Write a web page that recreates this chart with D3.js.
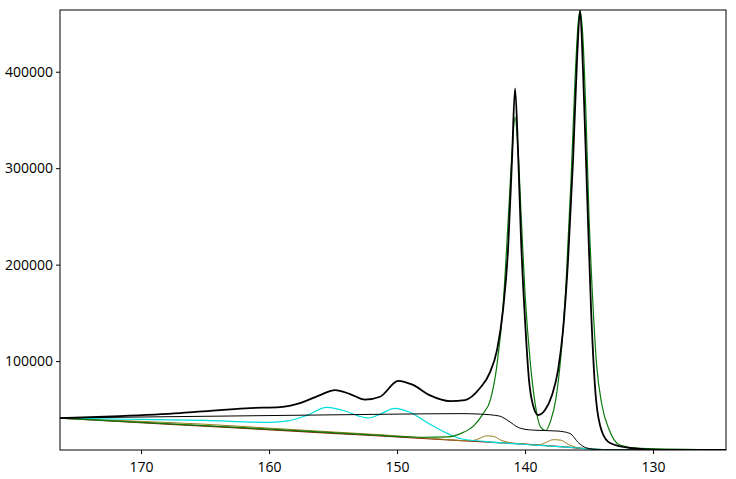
<!DOCTYPE html>
<html><head><meta charset="utf-8">
<script src="https://cdn.jsdelivr.net/npm/d3@7"></script>
<style>body{margin:0;background:#fff}svg{display:block}text{font-family:"Open Sans",sans-serif;font-size:14px;fill:#000}</style>
</head><body><svg width="736" height="479"></svg>
<script>
const xTicks=[170,160,150,140,130];
const yTicks=[100000,200000,300000,400000];
const measured=[[176.33,40950],[171.64,43020],[166.95,46130],[163.83,49240],[161.48,51310],[159.14,52340],[157.58,56490],[156.02,64780],[154.84,69960],[153.67,65810],[152.5,60000],[151.33,63000],[149.9,79500],[148.8,75500],[147.42,64500],[145.86,58560],[144.69,59600],[143.52,72030],[142.73,88600],[142.19,111400],[141.72,152840],[141.33,214990],[141.02,308240],[140.78,382830],[140.55,318600],[140.31,225360],[140.0,142480],[139.69,80320],[139.38,54420],[138.98,44060],[138.44,49240],[137.89,64780],[137.42,90680],[137.03,132120],[136.64,204640],[136.25,308240],[135.94,411840],[135.7,463500],[135.47,401500],[135.16,277160],[134.84,152840],[134.45,59600],[133.98,26440],[133.36,15050],[131.8,9870],[129.45,7800],[124.3,7800]];
const envelope=[[176.33,40950],[170,42000],[160,43500],[150,45000],[145,45500],[143.5,45000],[142,43000],[141.3,38000],[140.5,31000],[139.5,28500],[137.5,27500],[136.5,25000],[135.8,15000],[135.2,10000],[134,8000],[124.3,7800]];
const background=[[176.33,40950],[165,32500],[155,25000],[151.33,22300],[145,17600],[140,13850],[137,11000],[135,9000],[133.5,7900],[124.3,7800]];
const doublet=[[176.33,40950],[170,37500],[165,34500],[160,30500],[155,26500],[150,22500],[146,18500],[144.3,17200],[143.6,19500],[143.0,22500],[142.5,22000],[141.8,17500],[141,15000],[140,13800],[139,12800],[138.4,15500],[137.8,18500],[137.2,18000],[136.6,13500],[136,10500],[135,9000],[133.5,7900],[124.3,7800]];
const broad=[[176.33,40950],[170,39500],[165,38500],[160,36500],[158.5,38000],[157,44000],[155.5,52000],[154,48000],[153,43000],[152.2,41000],[151.3,45000],[150.2,51000],[149,47000],[147.5,35000],[146,24500],[145,19500],[143,16500],[140,13500],[137,11000],[135,9000],[133.5,7900],[124.3,7800]];
const main=[[176.33,40950],[160,29500],[152,23500],[148,21000],[146,21500],[145,25000],[144,33000],[143.3,45000],[142.7,60000],[142.2,95000],[141.7,160000],[141.3,250000],[141.0,320000],[140.78,353000],[140.55,320000],[140.3,250000],[140.0,170000],[139.6,100000],[139.2,55000],[138.8,32000],[138.4,28000],[138.0,38000],[137.6,60000],[137.2,105000],[136.8,180000],[136.4,290000],[136.1,390000],[135.85,450000],[135.7,463000],[135.5,440000],[135.25,360000],[135.0,250000],[134.7,160000],[134.4,95000],[134.0,55000],[133.4,28000],[132.6,13000],[131,9500],[124.3,8000]];

const svg=d3.select("svg");
const L=60,R=726,T=10,B=450;
const x=d3.scaleLinear().domain([176.33,124.3]).range([L,R]);
const y=d3.scaleLinear().domain([7800,464000]).range([B,T]);
svg.append("defs").append("clipPath").attr("id","c").append("rect").attr("x",L).attr("y",T).attr("width",R-L).attr("height",B-T);
const line=d3.line().x(d=>x(d[0])).y(d=>y(d[1])).curve(d3.curveMonotoneX);
const g=svg.append("g").attr("clip-path","url(#c)");
const series=[[background,"#8b1a00",1.2],[doublet,"#9a8020",1],[broad,"#00dede",1.2],[main,"#0a7a0a",1.2],[envelope,"#000",1],[measured,"#000",1.8]];
series.forEach(([d,c,w])=>g.append("path").datum(d).attr("d",line).attr("fill","none").attr("stroke",c).attr("stroke-width",w));
svg.append("rect").attr("x",L).attr("y",T).attr("width",R-L).attr("height",B-T).attr("fill","none").attr("stroke","#000");
const xa=svg.append("g").attr("transform",`translate(0,${B})`).call(d3.axisBottom(x).tickValues(xTicks).tickSize(4).tickFormat(d3.format("d")));
const ya=svg.append("g").attr("transform",`translate(${L},0)`).call(d3.axisLeft(y).tickValues(yTicks).tickSize(4).tickFormat(d3.format("d")));
[xa,ya].forEach(a=>{a.select(".domain").remove();a.selectAll("text").style("font-size","14px").style("font-family","Open Sans");});
xa.selectAll("text").attr("dy","1.1em");
</script></body></html>
